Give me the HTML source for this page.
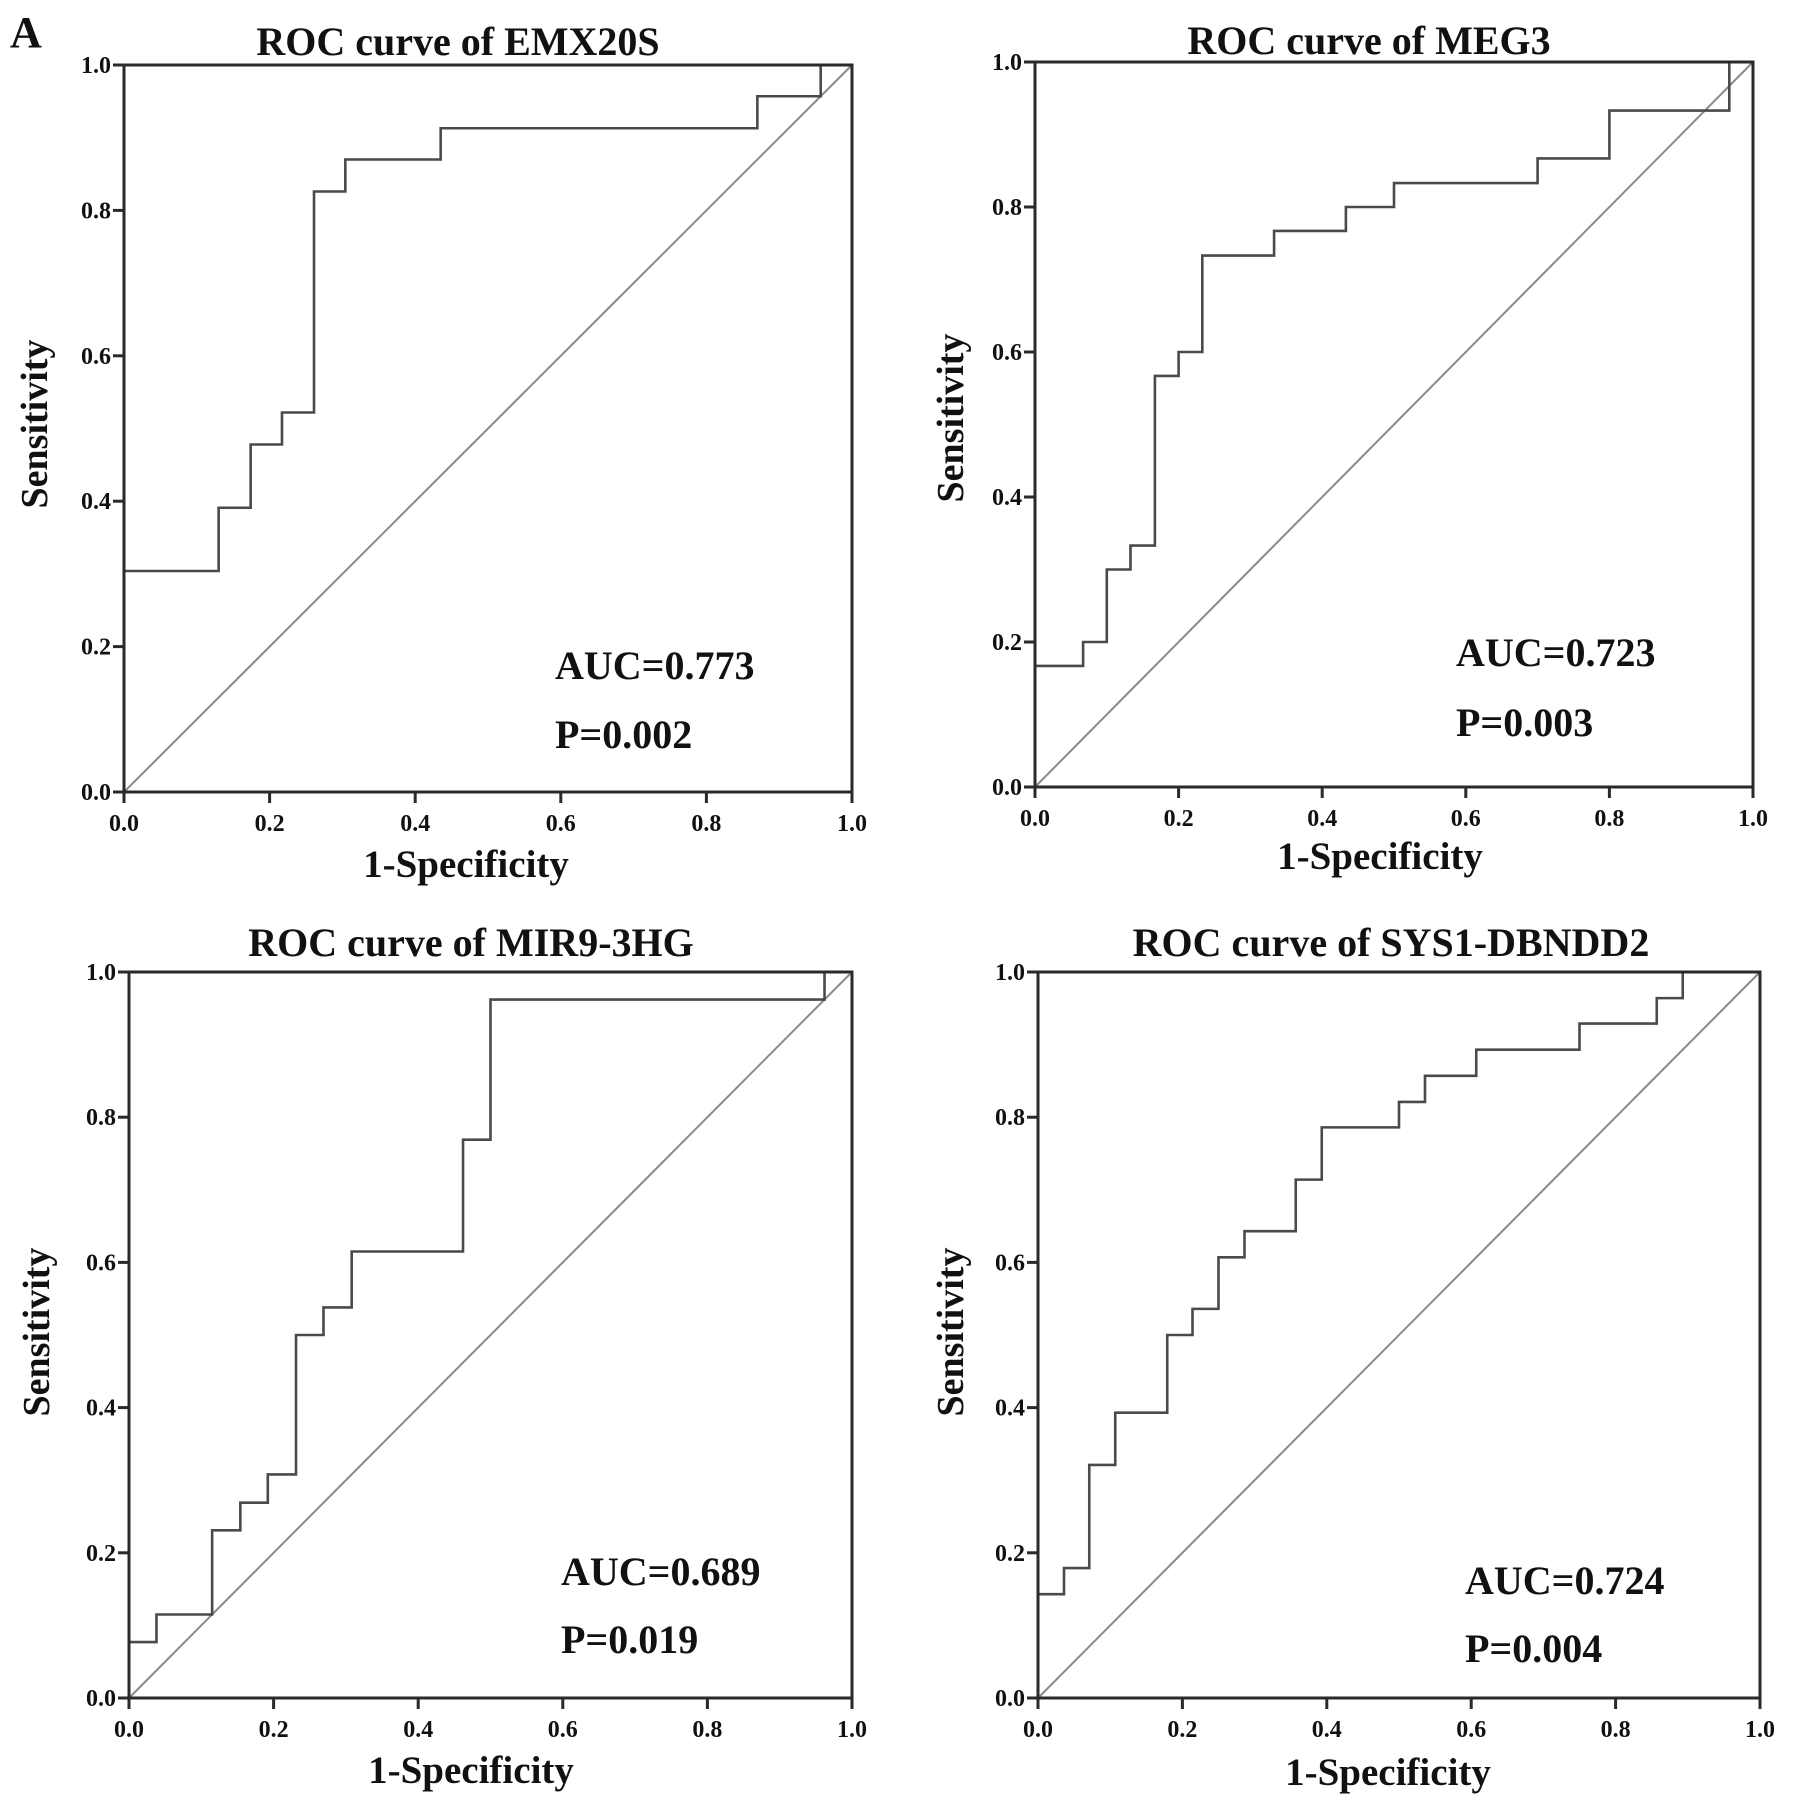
<!DOCTYPE html>
<html><head><meta charset="utf-8">
<style>
html,body{margin:0;padding:0;background:#fff;}
svg{display:block;}
text{font-family:"Liberation Serif",serif;font-weight:bold;fill:#111;}
</style></head>
<body>
<svg id="fig" width="1795" height="1809" viewBox="0 0 1795 1809" xmlns="http://www.w3.org/2000/svg">
<text x="10" y="47" font-size="44">A</text>
</svg>
<script>
// Tick labels
const tickVals = [0, 0.2, 0.4, 0.6, 0.8, 1.0];
const tickLabels = ["0.0", "0.2", "0.4", "0.6", "0.8", "1.0"];

// EMX20S ROC: step x positions (1-specificity) and sensitivity after each step
const emxStart = 0.304;
const emxStepX = [0.130, 0.174, 0.217, 0.261, 0.304, 0.435, 0.870, 0.957];
const emxStepY = [0.391, 0.478, 0.522, 0.826, 0.870, 0.913, 0.957, 1.000];

// MEG3 ROC
const megStart = 0.167;
const megStepX = [0.067, 0.100, 0.133, 0.167, 0.200, 0.233, 0.333, 0.433, 0.500, 0.700, 0.800, 0.967];
const megStepY = [0.200, 0.300, 0.333, 0.567, 0.600, 0.733, 0.767, 0.800, 0.833, 0.867, 0.933, 1.000];

// MIR9-3HG ROC
const mirStart = 0.077;
const mirStepX = [0.038, 0.115, 0.154, 0.192, 0.231, 0.269, 0.308, 0.462, 0.500, 0.962];
const mirStepY = [0.115, 0.231, 0.269, 0.308, 0.500, 0.538, 0.615, 0.769, 0.962, 1.000];

// SYS1-DBNDD2 ROC
const sysStart = 0.143;
const sysStepX = [0.036, 0.071, 0.107, 0.179, 0.214, 0.250, 0.286, 0.357, 0.393, 0.500, 0.536, 0.607, 0.750, 0.857, 0.893];
const sysStepY = [0.179, 0.321, 0.393, 0.500, 0.536, 0.607, 0.643, 0.714, 0.786, 0.821, 0.857, 0.893, 0.929, 0.964, 1.000];

const NS = "http://www.w3.org/2000/svg";
const svg = document.getElementById("fig");
function mk(tag, attrs, parent) {
  const e = document.createElementNS(NS, tag);
  for (const k in attrs) e.setAttribute(k, attrs[k]);
  (parent || svg).appendChild(e);
  return e;
}

const panels = [
  {key:"emx", title:"ROC curve of EMX20S", x0:124, x1:852, y0:65, y1:792, start:emxStart, sx:emxStepX, sy:emxStepY,
   tx:458, ty:55, auc:"AUC=0.773", p:"P=0.002", ax:555, ay:679, py:748, xtx:466, xty:877, ysx:34, ysy:424},
  {key:"meg3", title:"ROC curve of MEG3", x0:1035, x1:1753, y0:62, y1:787, start:megStart, sx:megStepX, sy:megStepY,
   tx:1369, ty:54, auc:"AUC=0.723", p:"P=0.003", ax:1456, ay:666, py:736, xtx:1380, xty:869, ysx:950, ysy:418},
  {key:"mir9", title:"ROC curve of MIR9-3HG", x0:129, x1:852, y0:972, y1:1698, start:mirStart, sx:mirStepX, sy:mirStepY,
   tx:471, ty:956, auc:"AUC=0.689", p:"P=0.019", ax:561, ay:1585, py:1653, xtx:471, xty:1783, ysx:36, ysy:1332},
  {key:"sys1", title:"ROC curve of SYS1-DBNDD2", x0:1038, x1:1760, y0:972, y1:1698, start:sysStart, sx:sysStepX, sy:sysStepY,
   tx:1391, ty:956, auc:"AUC=0.724", p:"P=0.004", ax:1465, ay:1594, py:1662, xtx:1388, xty:1785, ysx:950, ysy:1332}
];

panels.forEach(pn => {
  const g = mk("g", {});
  
  
  const xs = v => pn.x0 + v * (pn.x1 - pn.x0);
  const ys = v => pn.y1 - v * (pn.y1 - pn.y0);

  const diag = mk("line", {x1:xs(0), y1:ys(0), x2:xs(1), y2:ys(1), stroke:"#8a8a8a", "stroke-width":2}, g);
  
  

  let d = "M" + xs(0) + "," + ys(pn.start);
  let cy = pn.start;
  for (let i = 0; i < pn.sx.length; i++) {
    d += " L" + xs(pn.sx[i]) + "," + ys(cy);
    cy = pn.sy[i];
    d += " L" + xs(pn.sx[i]) + "," + ys(cy);
  }
  d += " L" + xs(1) + "," + ys(cy);
  const curve = mk("path", {d:d, fill:"none", stroke:"#4a4a4a", "stroke-width":2.6}, g);
  
  

  const frame = mk("rect", {x:pn.x0, y:pn.y0, width:pn.x1-pn.x0, height:pn.y1-pn.y0, fill:"none", stroke:"#2a2a2a", "stroke-width":3}, g);
  
  

  tickVals.forEach((v, i) => {
    const tx = mk("line", {x1:xs(v), y1:pn.y1, x2:xs(v), y2:pn.y1+11, stroke:"#2a2a2a", "stroke-width":3}, g);
    
    
    const lx = mk("text", {x:xs(v), y:pn.y1+39, "font-size":24, "text-anchor":"middle"}, g);
    lx.textContent = tickLabels[i];
    
    
    const ty = mk("line", {x1:pn.x0-11, y1:ys(v), x2:pn.x0, y2:ys(v), stroke:"#2a2a2a", "stroke-width":3}, g);
    
    
    const ly = mk("text", {x:pn.x0-13, y:ys(v)+8, "font-size":24, "text-anchor":"end"}, g);
    ly.textContent = tickLabels[i];
    
    
  });

  const t = mk("text", {x:pn.tx, y:pn.ty, "font-size":40, "text-anchor":"middle"}, g);
  t.textContent = pn.title;
  
  

  const xt = mk("text", {x:pn.xtx, y:pn.xty, "font-size":39, "text-anchor":"middle"}, g);
  xt.textContent = "1-Specificity";
  
  

  const yt = mk("text", {x:0, y:0, "font-size":38, "text-anchor":"middle", transform:"translate(" + (pn.ysx+13) + "," + pn.ysy + ") rotate(-90)"}, g);
  yt.textContent = "Sensitivity";
  
  

  const a = mk("text", {x:pn.ax, y:pn.ay, "font-size":40}, g);
  a.textContent = pn.auc;
  
  

  const p = mk("text", {x:pn.ax, y:pn.py, "font-size":40}, g);
  p.textContent = pn.p;
  
  
});
</script>
</body></html>
